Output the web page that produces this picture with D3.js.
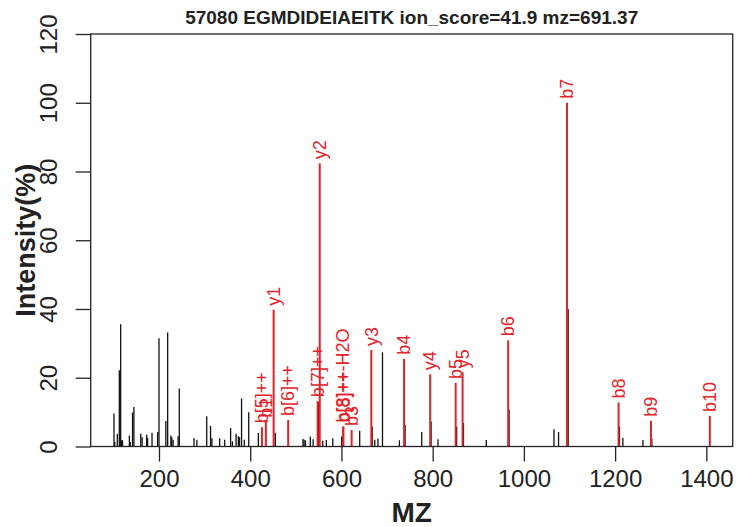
<!DOCTYPE html>
<html>
<head>
<meta charset="utf-8">
<script src="https://cdn.jsdelivr.net/npm/d3@7"></script>
<style>
  body { margin: 0; background: #fff; }
  svg { display: block; font-family: "Liberation Sans", Arial, sans-serif; }
</style>
</head>
<body>
<div id="chart"></div>
<script>
// spectrum title
const title = "57080 EGMDIDEIAEITK ion_score=41.9 mz=691.37";

// all observed peaks (black)
const peakMz = [101.3, 103, 108.6, 113, 116, 118, 120, 135, 137, 142, 145, 160, 163, 173, 175, 184.7, 197, 200,
  215, 219, 226, 228, 231, 242, 244.5, 276.7, 283, 304.6, 313, 316, 333, 344, 357, 361, 369, 374, 376.5, 381,
  387, 396.7, 417.8, 455, 515.7, 518, 521, 531.8, 538, 549.5, 559, 566.9, 581, 600.5, 640, 667.5, 673, 680,
  690, 727, 739.5, 776, 796.5, 811.7, 852.5, 867.5, 917.6, 967.5, 1066, 1076, 1097, 1209.5, 1217, 1261, 1280.5];
const peakInt = [9.6, 1.3, 3.7, 22.2, 35.6, 1.8, 1.8, 3.2, 1.3, 9.9, 11.5, 3.7, 2.7, 3.4, 2.5, 4, 4.2, 31.5,
  7.4, 33.2, 3.2, 2.7, 2, 3, 16.9, 2.5, 2, 8.8, 6, 2.4, 2.4, 2, 5.4, 1.5, 3.7, 3, 2.7, 14,
  2, 10, 3.9, 4, 2.2, 2, 1.8, 2.9, 2.1, 13, 1.7, 1.9, 2.4, 2.9, 4.6, 5.8, 2, 2.3,
  27.4, 1.8, 6.3, 4.2, 7.3, 2.1, 5.8, 6.8, 1.9, 10.7, 5, 4.2, 40, 5.8, 2.5, 1.9, 2.4];

// matched fragment ions (red)
const ionMz = [425.7, 434.3, 451.3, 483.2, 547.8, 552.4, 603.5, 604.3, 622.3, 665.5, 737.3, 794.5, 850.4, 865.6,
  965.5, 1094.5, 1207.6, 1278.6, 1407.7];
const ionInt = [5.6, 7.2, 39.8, 7.7, 13.2, 82.4, 5.8, 5.8, 4.8, 28.1, 25.5, 21, 18.5, 21.6,
  30.9, 100, 12.8, 7.5, 8.9];
const ionLabel = ["b[5]++", "b1", "y1", "b[6]++", "b[7]++", "y2", "b[8]++-H2O", "b[8]++", "b3", "y3", "b4", "y4", "b5", "y5",
  "b6", "b7", "b8", "b9", "b10"];

const xTicks = [200, 400, 600, 800, 1000, 1200, 1400];
const yTicks = [0, 20, 40, 60, 80, 100, 120];

const W = 737, H = 527;
const plot = { left: 90.7, right: 732.7, top: 34, bottom: 446.5 };
const red = "#e3232a";

const svg = d3.select("#chart").append("svg")
  .attr("width", W)
  .attr("height", H);

svg.append("rect").attr("width", W).attr("height", H).attr("fill", "#fff");

const x = d3.scaleLinear().domain([50.25, 1457.8]).range([plot.left, plot.right]);
const y = d3.scaleLinear().domain([0, 120]).range([plot.bottom, plot.top]);

const peaks = peakMz.map((m, i) => ({ mz: m, int: peakInt[i] }));
const ions = ionMz.map((m, i) => ({ mz: m, int: ionInt[i], label: ionLabel[i] }));

// black peaks
svg.append("g")
  .selectAll("line")
  .data(peaks)
  .join("line")
  .attr("x1", d => x(d.mz))
  .attr("x2", d => x(d.mz))
  .attr("y1", y(0))
  .attr("y2", d => y(d.int))
  .attr("stroke", "#111")
  .attr("stroke-width", 1.3);

// red annotated peaks
svg.append("g")
  .selectAll("line")
  .data(ions)
  .join("line")
  .attr("x1", d => x(d.mz))
  .attr("x2", d => x(d.mz))
  .attr("y1", y(0))
  .attr("y2", d => y(d.int))
  .attr("stroke", red)
  .attr("stroke-width", 2);

svg.append("g")
  .selectAll("text")
  .data(ions)
  .join("text")
  .attr("transform", d => `translate(${x(d.mz)},${y(d.int) - 4}) rotate(-90)`)
  .attr("dy", "0.35em")
  .attr("text-anchor", "start")
  .style("font-size", "18px")
  .attr("fill", red)
  .text(d => d.label);

// box
svg.append("rect")
  .attr("x", plot.left)
  .attr("y", plot.top)
  .attr("width", plot.right - plot.left)
  .attr("height", plot.bottom - plot.top)
  .attr("fill", "none")
  .attr("stroke", "#222")
  .attr("stroke-width", 1.3);

// x axis
const gx = svg.append("g")
  .attr("transform", `translate(0,${plot.bottom})`)
  .call(d3.axisBottom(x).tickValues(xTicks).tickFormat(d3.format("d"))
    .tickSize(15).tickSizeOuter(0).tickPadding(8));
gx.select(".domain").remove();
gx.selectAll("line").attr("stroke", "#222").attr("stroke-width", 1.3);
gx.selectAll("text")
  .style("font-size", "24px")
  .style("font-family", "Liberation Sans, Arial, sans-serif")
  .attr("fill", "#222");

// y axis
const gy = svg.append("g")
  .attr("transform", `translate(${plot.left},0)`)
  .call(d3.axisLeft(y).tickValues(yTicks).tickFormat(d3.format("d")).tickSize(15).tickSizeOuter(0));
gy.select(".domain").remove();
gy.selectAll("line").attr("stroke", "#222").attr("stroke-width", 1.3);
gy.selectAll("text")
  .attr("x", 0)
  .attr("dy", 0)
  .attr("transform", "translate(-33.7,0) rotate(-90)")
  .attr("text-anchor", "middle")
  .style("font-size", "24px")
  .style("font-family", "Liberation Sans, Arial, sans-serif")
  .attr("fill", "#222");

// titles
svg.append("text")
  .attr("x", (plot.left + plot.right) / 2)
  .attr("y", 24)
  .attr("text-anchor", "middle")
  .style("font-size", "19px")
  .style("font-weight", "bold")
  .attr("fill", "#222")
  .text(title);

svg.append("text")
  .attr("x", (plot.left + plot.right) / 2)
  .attr("y", 522)
  .attr("text-anchor", "middle")
  .style("font-size", "28px")
  .style("font-weight", "bold")
  .attr("fill", "#222")
  .text("MZ");

svg.append("text")
  .attr("transform", `translate(35,${(plot.top + plot.bottom) / 2}) rotate(-90)`)
  .attr("text-anchor", "middle")
  .style("font-size", "27px")
  .style("font-weight", "bold")
  .attr("fill", "#222")
  .text("Intensity(%)");
</script>
</body>
</html>
